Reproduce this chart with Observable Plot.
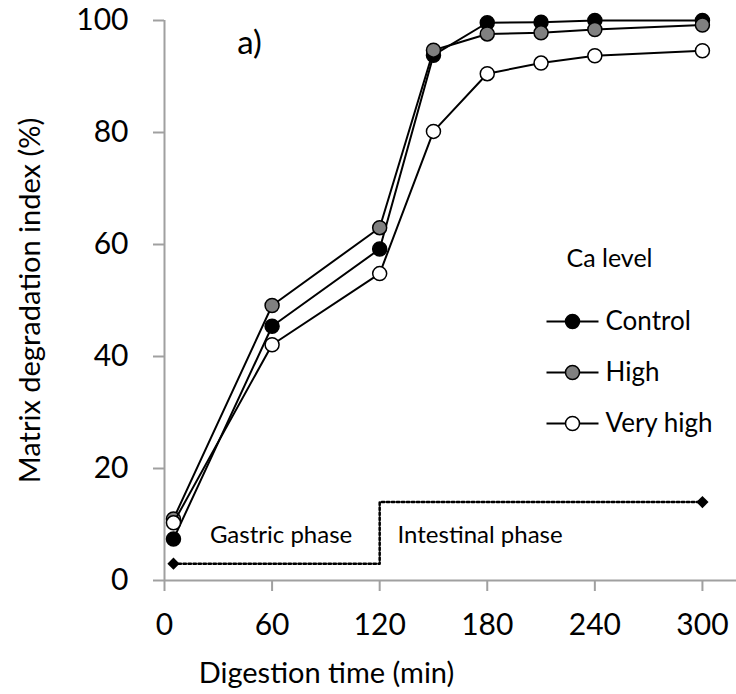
<!DOCTYPE html>
<html><head><meta charset="utf-8">
<script src="https://cdn.jsdelivr.net/npm/d3@7"></script>
<script src="https://cdn.jsdelivr.net/npm/@observablehq/plot@0.6"></script>
<style>
body{margin:0;background:#fff;}
#chart svg{display:block;font-family:Lato,sans-serif;background:#fff;}
#chart [aria-label="x-axis tick"], #chart [aria-label="y-axis tick"]{stroke:#a0a0a0;stroke-width:2;}
</style></head><body><div id="chart"></div>
<script>
// ---- data ----
const times = [5, 60, 120, 150, 180, 210, 240, 300];
const control = [7.4, 45.4, 59.2, 93.8, 99.6, 99.7, 100.0, 100.0];
const high = [11.0, 49.1, 63.0, 94.7, 97.6, 97.8, 98.4, 99.2];
const veryHigh = [10.3, 42.1, 54.8, 80.2, 90.5, 92.4, 93.7, 94.6];
const seriesNames = ["Control", "High", "Very high"];
const seriesFill = ["black", "#808080", "white"];
const xTicks = [0, 60, 120, 180, 240, 300];
const yTicks = [0, 20, 40, 60, 80, 100];
const phaseTime = [5, 120, 120, 300];
const phaseLevel = [3, 3, 14, 14];
const phaseLabels = ["Gastric phase", "Intestinal phase"];
const phaseLabelTime = [65, 176];
const phaseLabelLevel = [8, 8];

// ---- layout ----
const W = 736, H = 694, ML = 164, MR = 0, MT = 20, MB = 114;
const xMax = 319;
const px2x = px => (px - ML) * xMax / (W - ML - MR);
const py2y = py => (H - MB - py) * 100 / (H - MB - MT);

const values = [control, high, veryHigh];
const rows = seriesNames.flatMap((name, i) => times.map((t, j) => ({series: name, time: t, value: values[i][j]})));
const phase = phaseTime.map((t, i) => ({time: t, level: phaseLevel[i]}));
const phaseEnds = [phase[0], phase[phase.length - 1]];
const phaseText = phaseLabels.map((s, i) => ({label: s, time: phaseLabelTime[i], level: phaseLabelLevel[i]}));
const legendRows = seriesNames.map((name, i) => ({name, fill: seriesFill[i], ly: py2y(321 + 51 * i)}));

const seriesMarks = seriesNames.flatMap((name, i) => {
  const d = rows.filter(r => r.series === name);
  return [
    Plot.line(d, {x: "time", y: "value", stroke: "black", strokeWidth: 2}),
    Plot.dot(d, {x: "time", y: "value", r: 7, fill: seriesFill[i], stroke: "black", strokeWidth: 1.5})
  ];
});

const chart = Plot.plot({
  width: W, height: H,
  marginLeft: ML, marginRight: MR, marginTop: MT, marginBottom: MB,
  x: {domain: [0, xMax]},
  y: {domain: [0, 100]},
  marks: [
    Plot.ruleY([0], {stroke: "#a0a0a0", strokeWidth: 2}),
    Plot.ruleX([0], {stroke: "#a0a0a0", strokeWidth: 2}),
    Plot.axisX(xTicks, {tickSize: 11, tickPadding: 22, fontSize: 30, label: null, fill: "black"}),
    Plot.axisY(yTicks, {tickSize: 11, tickPadding: 25, fontSize: 30, label: null, fill: "black"}),
    Plot.text(["Matrix degradation index (%)"], {frameAnchor: "left", dx: 30 - ML, rotate: -90, textAnchor: "middle", lineAnchor: "middle", fontSize: 29}),
    Plot.text(["Digestion time (min)"], {frameAnchor: "bottom-left", dx: 326 - ML, dy: 673 - (H - MB), textAnchor: "middle", lineAnchor: "middle", fontSize: 29}),
    Plot.text(["a)"], {frameAnchor: "top-left", dx: 249 - ML, dy: 43 - MT, textAnchor: "middle", lineAnchor: "middle", fontSize: 33}),
    Plot.line(phase, {x: "time", y: "level", stroke: "black", strokeWidth: 2.5, strokeDasharray: "2.5,2.5"}),
    Plot.dot(phaseEnds, {x: "time", y: "level", symbol: "diamond2", r: 5.5, fill: "black"}),
    Plot.text(phaseText, {x: "time", y: "level", text: "label", fontSize: 24, textAnchor: "middle", lineAnchor: "middle"}),
    ...seriesMarks,
    Plot.text(["Ca level"], {frameAnchor: "top-left", dx: 566 - ML, dy: 258 - MT, textAnchor: "start", lineAnchor: "middle", fontSize: 25}),
    Plot.link(legendRows, {x1: () => px2x(546), x2: () => px2x(598), y1: "ly", y2: "ly", stroke: "black", strokeWidth: 2}),
    Plot.dot(legendRows, {x: () => px2x(572), y: "ly", r: 7, fill: "fill", stroke: "black", strokeWidth: 1.5}),
    Plot.text(legendRows, {x: () => px2x(605), y: "ly", text: "name", textAnchor: "start", lineAnchor: "middle", fontSize: 26})
  ]
});
document.getElementById("chart").appendChild(chart);
</script>
</body></html>
